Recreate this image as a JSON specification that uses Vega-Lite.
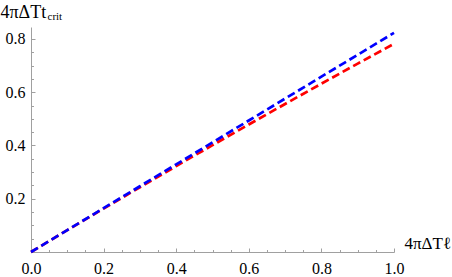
{
  "$schema": "https://vega.github.io/schema/vega-lite/v6.json",
  "width": 363,
  "height": 225,
  "autosize": "none",
  "padding": {"left": 31, "top": 27, "right": 58, "bottom": 25},
  "background": "white",
  "config": {
    "view": {"stroke": null},
    "font": "Liberation Serif",
    "axis": {
      "grid": false,
      "domainColor": "#a0a0a0",
      "tickColor": "#a0a0a0",
      "labelColor": "#000000",
      "labelFont": "Liberation Serif",
      "labelFontSize": 16,
      "titleFont": "Liberation Serif",
      "titleFontWeight": "normal",
      "titleColor": "#000000"
    }
  },
  "data": {
    "values": [
      {"x": 0.0, "y": 0.0, "s": "red"},
      {"x": 0.1, "y": 0.0819, "s": "red"},
      {"x": 0.2, "y": 0.1630, "s": "red"},
      {"x": 0.3, "y": 0.2432, "s": "red"},
      {"x": 0.4, "y": 0.3226, "s": "red"},
      {"x": 0.5, "y": 0.4013, "s": "red"},
      {"x": 0.6, "y": 0.4790, "s": "red"},
      {"x": 0.7, "y": 0.5560, "s": "red"},
      {"x": 0.8, "y": 0.6322, "s": "red"},
      {"x": 0.9, "y": 0.7075, "s": "red"},
      {"x": 1.0, "y": 0.7820, "s": "red"},
      {"x": 0.0, "y": 0.0, "s": "blue"},
      {"x": 0.1, "y": 0.0823, "s": "blue"},
      {"x": 0.2, "y": 0.1646, "s": "blue"},
      {"x": 0.3, "y": 0.2469, "s": "blue"},
      {"x": 0.4, "y": 0.3292, "s": "blue"},
      {"x": 0.5, "y": 0.4115, "s": "blue"},
      {"x": 0.6, "y": 0.4938, "s": "blue"},
      {"x": 0.7, "y": 0.5761, "s": "blue"},
      {"x": 0.8, "y": 0.6584, "s": "blue"},
      {"x": 0.9, "y": 0.7407, "s": "blue"},
      {"x": 1.0, "y": 0.8230, "s": "blue"}
    ]
  },
  "layer": [
    {
      "transform": [{"filter": "datum.s === 'red'"}],
      "mark": {"type": "line", "color": "#ff0000", "strokeWidth": 2.7, "strokeDash": [8, 4], "clip": false},
      "encoding": {
        "x": {
          "field": "x", "type": "quantitative",
          "scale": {"domain": [0, 1], "nice": false, "zero": false},
          "axis": {
            "orient": "bottom",
            "values": [0, 0.2, 0.4, 0.6, 0.8, 1.0],
            "format": ".1f",
            "tickSize": -4,
            "labelPadding": 12,
            "labelFlush": false,
            "labelFont": "Liberation Serif",
            "title": "4πΔTℓ",
            "titleFontSize": 17,
            "titleAlign": "left",
            "titleBaseline": "alphabetic",
            "titleAnchor": null,
            "titleX": 373,
            "titleY": -4
          }
        },
        "y": {
          "field": "y", "type": "quantitative",
          "scale": {"domain": [0, 0.845], "nice": false, "zero": false},
          "axis": {
            "orient": "left",
            "values": [0.2, 0.4, 0.6, 0.8],
            "format": ".1f",
            "tickSize": -4,
            "labelPadding": 10,
            "labelFlush": false,
            "labelFont": "Liberation Serif",
            "title": "4πΔTt",
            "titleFontSize": 18,
            "titleAngle": 0,
            "titleAlign": "left",
            "titleBaseline": "alphabetic",
            "titleAnchor": null,
            "titleX": -31,
            "titleY": -10
          }
        }
      }
    },
    {
      "transform": [{"filter": "datum.s === 'blue'"}],
      "mark": {"type": "line", "color": "#0000ff", "strokeWidth": 2.7, "strokeDash": [8, 4], "clip": false},
      "encoding": {
        "x": {
          "field": "x", "type": "quantitative",
          "axis": {
            "orient": "bottom",
            "values": [0.05, 0.1, 0.15, 0.25, 0.3, 0.35, 0.45, 0.5, 0.55, 0.65, 0.7, 0.75, 0.85, 0.9, 0.95],
            "domain": false,
            "labels": false,
            "tickSize": -2.5,
            "title": "crit",
            "titleFontSize": 11,
            "titleAlign": "left",
            "titleBaseline": "alphabetic",
            "titleAnchor": null,
            "titleX": 16,
            "titleY": -233
          }
        },
        "y": {
          "field": "y", "type": "quantitative",
          "axis": {
            "orient": "left",
            "values": [0.05, 0.1, 0.15, 0.25, 0.3, 0.35, 0.45, 0.5, 0.55, 0.65, 0.7, 0.75],
            "domain": false,
            "labels": false,
            "tickSize": -2.5,
            "title": null
          }
        }
      }
    }
  ],
  "resolve": {"axis": {"x": "independent", "y": "independent"}}
}
